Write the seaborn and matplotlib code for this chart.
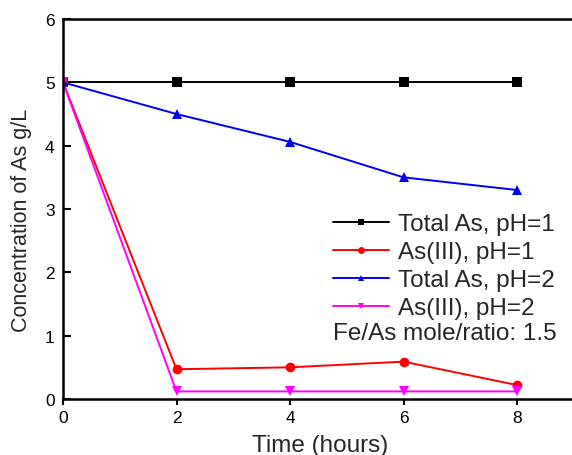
import matplotlib
matplotlib.use("Agg")
import matplotlib.pyplot as plt
import seaborn as sns
import pandas as pd

time_hours = [0, 2, 4, 6, 8]
total_as_ph1 = [5.0, 5.0, 5.0, 5.0, 5.0]
as3_ph1 = [5.0, 0.47, 0.50, 0.59, 0.22]
total_as_ph2 = [5.0, 4.50, 4.06, 3.50, 3.30]
as3_ph2 = [5.0, 0.12, 0.12, 0.12, 0.12]
series_names = ["Total As, pH=1", "As(III), pH=1", "Total As, pH=2", "As(III), pH=2"]
series_colors = ["#000000", "#ff0000", "#0000ff", "#ff00ff"]
series_markers = ["s", "o", "^", "v"]
note_text = "Fe/As mole/ratio: 1.5"

sns.set_theme(style="ticks")
plt.rcParams["font.family"] = ["Liberation Sans", "DejaVu Sans"]

rows = []
for name, vals in zip(series_names, [total_as_ph1, as3_ph1, total_as_ph2, as3_ph2]):
    for t, v in zip(time_hours, vals):
        rows.append({"time": t, "conc": v, "series": name})
df = pd.DataFrame(rows)

W, H = 572, 456
fig = plt.figure(figsize=(W / 100, H / 100), dpi=100)
x0, y0 = 63, 400
px_per_x = 56.75
px_per_y = 63.33
xmax = 9.5
ax = fig.add_axes([x0 / W, (H - y0) / H, xmax * px_per_x / W, 6 * px_per_y / H])

sns.lineplot(data=df, x="time", y="conc", hue="series", style="series",
             hue_order=series_names, style_order=series_names,
             palette=dict(zip(series_names, series_colors)),
             markers=dict(zip(series_names, series_markers)),
             dashes=False, markersize=7, markeredgewidth=0, linewidth=1.4,
             ax=ax, legend=True)

ax.set_xlim(0, xmax)
ax.set_ylim(0, 6)
ax.set_xticks([0, 2, 4, 6, 8])
ax.set_yticks([0, 1, 2, 3, 4, 5, 6])
ax.tick_params(axis="y", direction="in", length=6, width=1.5, labelsize=12.5,
               colors="black", pad=6)
ax.tick_params(axis="x", direction="out", length=4, width=1.5, labelsize=12.5,
               colors="black", pad=4)
for s in ["left", "bottom", "top"]:
    ax.spines[s].set_linewidth(1.8)
    ax.spines[s].set_color("black")
ax.spines["right"].set_visible(False)

ax.set_xlabel("Time (hours)", fontsize=17.5)
ax.set_ylabel("Concentration of As g/L", fontsize=15.5)
ax.xaxis.set_label_coords((320 - x0) / (xmax * px_per_x), -0.093)
ax.yaxis.set_label_coords((32 - x0) / (xmax * px_per_x), (y0 - 220) / (6 * px_per_y))

handles, labels = ax.get_legend_handles_labels()
for h in handles:
    h.set_markersize(5)
leg = ax.legend(handles, labels, loc="upper left", frameon=False, fontsize=17.5,
                handlelength=2.3, labelspacing=0.25, handletextpad=0.37,
                borderaxespad=0, borderpad=0,
                bbox_to_anchor=(333 / W, 1 - 214 / H), bbox_transform=fig.transFigure)

fig.text(333 / W, 1 - 334 / H, note_text, fontsize=17.5, ha="left", va="center")

fig.savefig("out.png", dpi=100)
